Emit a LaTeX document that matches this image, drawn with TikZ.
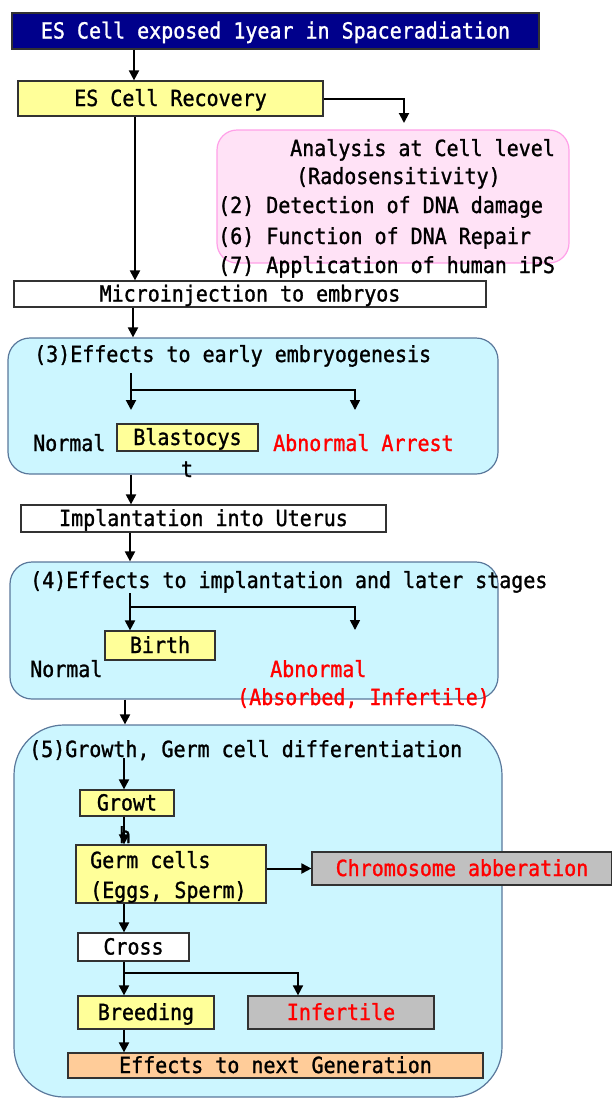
\documentclass[tikz,border=0pt]{standalone}
\usepackage{fontspec}
\setmainfont{DejaVu Sans Mono}[FakeStretch=0.9, FakeBold=1.2]
\usetikzlibrary{arrows.meta}
\definecolor{navyfill}{RGB}{0,0,139}
\definecolor{yel}{RGB}{255,255,153}
\definecolor{pinkfill}{RGB}{255,226,246}
\definecolor{pinkline}{RGB}{255,160,232}
\definecolor{cyanfill}{RGB}{204,246,255}
\definecolor{cyanline}{RGB}{90,120,155}
\definecolor{grayfill}{RGB}{192,192,192}
\definecolor{orangefill}{RGB}{255,204,153}
\definecolor{boxline}{RGB}{50,50,50}
\definecolor{redtext}{RGB}{255,0,0}
\begin{document}
\begin{tikzpicture}[x=1pt,y=-1pt,
  font=\fontsize{22.2}{26}\selectfont,
  sz/.style 2 args={minimum width=#1pt, minimum height=#2pt},
  bx/.style={draw=boxline, line width=1.2pt, inner sep=0pt, text height=15pt, text depth=0pt},
  stagebox/.style={draw=cyanline, fill=cyanfill, line width=1.2pt, inner sep=0pt},
  lbl/.style={anchor=base west, inner sep=0pt},
  clbl/.style={anchor=base, inner sep=0pt},
  arr/.style={line width=2pt, -{Triangle[length=10pt,width=10pt]}},
  arrb/.style={line width=1.6pt, -{Triangle[length=10pt,width=10pt]}}]
\useasboundingbox (0,0) rectangle (611,1098);

% spine coordinates
\coordinate (s1) at (134,0);
\coordinate (s2) at (135,0);
\coordinate (s3) at (133,0);
\coordinate (s4) at (131,0);
\coordinate (s5) at (130,0);
\coordinate (s6) at (125,0);
\coordinate (s7) at (124,0);
\coordinate (b2) at (298,0);

% stage containers
\node[stagebox, rounded corners=22pt, sz={490}{136}] (stage3) at (253,406) {};
\node[stagebox, rounded corners=22pt, sz={488}{137}] (stage4) at (254,630.5) {};
\node[stagebox, rounded corners=50pt, sz={488}{372}] (stage5) at (258,911) {};

% top part
\node[bx, fill=navyfill, text=white, sz={527}{36}] (top) at (275.5,31) {ES Cell exposed 1year in Spaceradiation};
\node[bx, fill=yel, sz={305}{35}] (rec) at (170.5,98.5) {ES Cell Recovery};
\node[draw=pinkline, fill=pinkfill, line width=1.2pt, rounded corners=20pt, inner sep=0pt, sz={352}{133}] (cell) at (393,196.5) {};
\node[lbl] (c1) at (290,156) {Analysis at Cell level};
\node[lbl] (c2) at (296,184) {(Radosensitivity)};
\node[lbl] (c3) at (218,213) {(2) Detection of DNA damage};
\node[lbl] (c4) at (218,244) {(6) Function of DNA Repair};
\node[lbl] (c5) at (218,273) {(7) Application of human iPS};
\node[bx, fill=white, sz={472}{26}] (micro) at (250,294) {Microinjection to embryos};
\coordinate (pa) at (404,123);

% stage 3
\node[lbl] (t3) at (34,362) {(3)Effects to early embryogenesis};
\node[lbl] (n3) at (33,451) {Normal};
\node[bx, fill=yel, sz={141}{27}] (blast) at (187.5,437.5) {Blastocys};
\node[clbl] (blastt) at (187,477) {t};
\node[lbl, text=redtext] (ab3) at (273,451) {Abnormal Arrest};
\coordinate (f1) at (131,373);
\coordinate (f1e) at (131,410);
\coordinate (j1) at (131,390);
\coordinate (g1) at (355,410);

\node[bx, fill=white, sz={365}{27}] (impl) at (203.5,518.5) {Implantation into Uterus};

% stage 4
\node[lbl] (t4) at (30,588) {(4)Effects to implantation and later stages};
\node[bx, fill=yel, sz={110}{29}] (birth) at (160,645.5) {Birth};
\node[lbl] (n4) at (30,677) {Normal};
\node[lbl, text=redtext] (ab4) at (270,677) {Abnormal};
\node[lbl, text=redtext] (ab4b) at (237,705) {(Absorbed, Infertile)};
\coordinate (f2) at (130,593);
\coordinate (j2) at (130,607);
\coordinate (g2) at (355,630);

% stage 5
\node[lbl] (t5) at (29,757) {(5)Growth, Germ cell differentiation};
\node[bx, fill=yel, sz={94}{26}] (growt) at (127,803) {Growt};
\node[draw=boxline, fill=yel, line width=1.2pt, inner sep=0pt, sz={190}{58}] (germ) at (171,874) {};
\node[lbl] (g1t) at (90,868) {Germ cells};
\node[lbl] (g2t) at (90,898) {(Eggs, Sperm)};
\node[bx, fill=grayfill, text=redtext, sz={300}{33}] (chrom) at (462,868.5) {Chromosome abberation};
\node[bx, fill=white, sz={111}{28}] (cross) at (133.5,947) {Cross};
\node[bx, fill=yel, sz={136}{33}] (breed) at (146,1012.5) {Breeding};
\node[bx, fill=grayfill, text=redtext, sz={186}{33}] (infert) at (341,1012.5) {Infertile};
\node[bx, fill=orangefill, sz={415}{25}] (eff) at (275.5,1065.5) {Effects to next Generation};
\coordinate (f3) at (124,758);
\coordinate (j3) at (124,973);

% connectors
\draw[arr] (top.south -| s1) -- (rec.north -| s1);
\draw[arr] (rec.south -| s2) -- (micro.north -| s2);
\draw[arr] (rec.east) -| (pa);
\draw[arr] (micro.south -| s3) -- (stage3.north -| s3);
\draw[arr] (f1) -- (f1e);
\draw[arrb] (j1) -| (g1);
\draw[arr] (stage3.south -| s4) -- (impl.north -| s4);
\draw[arr] (impl.south -| s5) -- (stage4.north -| s5);
\draw[arr] (f2) -- (birth.north -| f2);
\draw[arrb] (j2) -| (g2);
\draw[arr] (stage4.south -| s6) -- (stage5.north -| s6);
\draw[arr] (f3) -- (growt.north -| f3);
\draw[arr] (growt.south -| s7) -- (germ.north -| s7);
\draw[arr] (germ.east |- chrom.west) -- (chrom.west);
\draw[arr] (germ.south -| s7) -- (cross.north -| s7);
\draw[arr] (cross.south -| s7) -- (breed.north -| s7);
\draw[arrb] (j3) -| (infert.north -| b2);
\draw[arr] (breed.south -| s7) -- (eff.north -| s7);

\node[clbl] (growth) at (125,843) {h};
\end{tikzpicture}
\end{document}
